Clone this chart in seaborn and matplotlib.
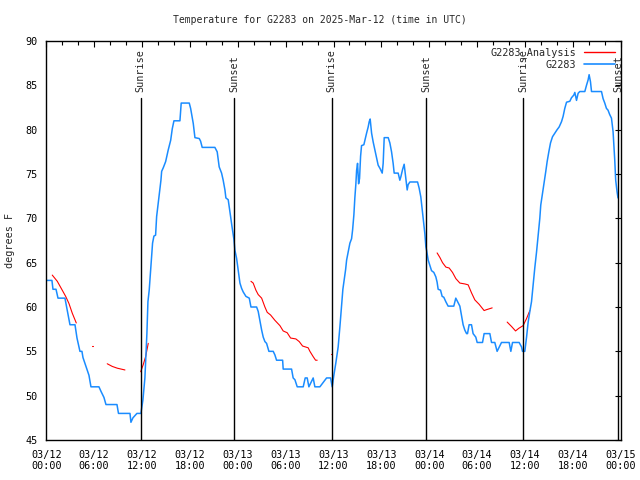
import numpy as np
import pandas as pd
import seaborn as sns
import matplotlib.pyplot as plt
from matplotlib.ticker import MultipleLocator
from matplotlib.lines import Line2D

# hours since 2025-03-12 00:00 UTC
obs_hours = [0.0, 0.71, 0.84, 1.22, 1.47, 2.34, 2.97, 3.6, 3.85, 4.22, 4.47, 4.6, 4.97, 5.35, 5.6,
             5.85, 6.6, 6.85, 7.23, 7.48, 8.86, 9.05, 10.49, 10.61, 10.86, 11.36, 11.86,
             12.11, 12.36, 12.61, 12.74, 12.9, 13.11, 13.32, 13.49, 13.7, 13.83, 14.03, 14.24,
             14.37, 14.46, 14.66, 14.96, 15.28, 15.59, 15.79, 16.0, 16.75, 16.91, 17.92, 18.09,
             18.42, 18.63, 19.17, 19.34, 19.54, 21.13, 21.42, 21.67, 21.97, 22.17, 22.39, 22.51,
             22.8, 22.93, 23.1, 23.27, 23.52, 23.64, 23.85, 24.05, 24.27, 24.48, 24.68, 25.02,
             25.44, 25.65, 26.36, 26.56, 26.77, 26.99, 27.19, 27.4, 27.61, 27.9, 28.44, 28.65,
             28.86, 29.62, 29.69, 30.74, 30.94, 31.16, 31.45, 32.2, 32.45, 32.7, 32.91, 33.45,
             33.66, 34.29, 35.13, 35.63, 35.83, 36.04, 36.29, 36.58, 36.8, 37.17, 37.51, 37.64,
             37.84, 38.05, 38.26, 38.39, 38.55, 38.67, 38.8, 38.89, 39.01, 39.14, 39.26, 39.39,
             39.51, 39.8, 39.93, 40.14, 40.34, 40.47, 40.59, 40.77, 40.97, 41.18, 41.39, 41.59,
             41.84, 42.1, 42.22, 42.35, 42.85, 43.06, 43.27, 43.47, 43.6, 44.1, 44.31, 44.44,
             44.65, 44.85, 45.03, 45.23, 45.35, 45.57, 46.53, 46.73, 46.94, 47.16, 47.32, 47.44,
             47.57, 47.66, 47.86, 48.07, 48.28, 48.57, 48.82, 48.98, 49.11, 49.41, 49.61, 49.82,
             50.07, 50.36, 51.07, 51.32, 51.54, 51.83, 52.04, 52.24, 52.45, 52.67, 52.79, 52.99,
             53.29, 53.49, 53.83, 54.0, 54.67, 54.87, 55.59, 55.8, 56.21, 56.5, 57.05, 58.01,
             58.22, 58.43, 59.26, 59.56, 59.68, 59.97, 60.19, 60.39, 60.6, 60.81, 61.01, 61.22,
             61.44, 61.64, 61.85, 61.97, 62.19, 62.39, 62.6, 62.77, 62.98, 63.19, 63.44, 63.73,
             64.02, 64.27, 64.57, 64.77, 64.98, 65.2, 65.61, 65.82, 66.11, 66.24, 66.45, 66.65,
             66.86, 67.49, 67.7, 67.9, 68.03, 68.2, 68.33, 69.58, 69.78, 69.99, 70.2, 70.4,
             70.61, 70.83, 71.03, 71.24, 71.36, 71.53, 71.65]
obs_temps = [63, 63, 62, 62, 61, 61, 58, 58, 56.5, 55, 55, 54.3, 53.3, 52.3, 51,
             51, 51, 50.5, 49.8, 49, 49, 48, 48, 47, 47.5, 48, 48,
             49.5, 52, 57, 60.6, 61.9, 64.5, 67.2, 68, 68.1, 70.2, 71.7, 73.2,
             74.3, 75.3, 75.7, 76.4, 77.7, 78.8, 80.1, 81, 81, 83, 83, 82.4,
             80.7, 79.1, 79, 78.7, 78, 78, 77.5, 75.8, 75.1, 74.3, 73.2, 72.3,
             72.1, 71.3, 70.2, 69.1, 67.6, 66.4, 65.5, 64.2, 62.7, 62.1, 61.7, 61.2,
             61, 60, 60, 59.5, 58.5, 57.4, 56.6, 56.1, 55.9, 55, 55, 54.6,
             54, 54, 53, 53, 52, 51.8, 51, 51, 52, 52, 51, 52,
             51, 51, 52, 52, 51, 52.3, 53.7, 55.5, 57.8, 62, 64.2, 65.3,
             66.2, 67.2, 67.7, 68.7, 70.4, 72.3, 73.9, 75.4, 76.2, 73.9, 74.5, 77,
             78.2, 78.3, 78.8, 79.6, 80.3, 80.9, 81.2, 79.6, 78.6, 77.7, 76.8, 76,
             75.6, 75.1, 76.2, 79.1, 79.1, 78.5, 77.5, 76.2, 75.1, 75.1, 74.3, 74.7,
             75.5, 76.1, 74.7, 73.2, 73.8, 74.1, 74.1, 73.4, 72.4, 70.6, 69.4, 68.3,
             66.8, 66.4, 65.3, 64.7, 64.1, 63.9, 63.4, 62.8, 62, 61.9, 61.2, 61.1,
             60.6, 60.1, 60.1, 61, 60.6, 60.1, 59, 58, 57.4, 57, 57, 58,
             58, 57, 56.6, 56, 56, 57, 57, 56, 56, 55, 56, 56,
             55, 56, 56, 55.5, 55, 55, 56.6, 58.3, 59.5, 60.6, 62.5, 64.4,
             66.2, 68.1, 70, 71.5, 72.8, 73.9, 75.3, 76.4, 77.5, 78.5, 79.2, 79.6,
             80, 80.3, 80.9, 81.5, 82.4, 83.1, 83.2, 83.6, 83.9, 84.2, 83.3, 84.1,
             84.3, 84.3, 85, 85.6, 86.2, 85.4, 84.3, 84.3, 83.5, 83, 82.4, 82.2,
             81.7, 81.3, 79.8, 76.6, 74.3, 73, 72.3]

ana_hours = [0.75, 1.38, 2.0, 2.43, 2.84, 3.26, 3.76,
             5.72, 5.8,
             7.64, 8.27, 8.9, 9.86,
             11.83, 12.15, 12.45, 12.78,
             25.65, 25.93, 26.27, 26.56, 26.99, 27.4, 27.69, 28.11, 28.65, 29.28, 29.69, 30.19,
             30.62, 31.28, 31.7, 32.12, 32.82, 33.04, 33.45, 33.75, 33.95,
             35.72, 35.8,
             48.98, 49.32, 49.66, 50.08, 50.49, 50.91, 51.33, 51.83, 52.46, 52.87, 53.29, 53.71,
             54.25, 54.87, 55.17, 55.88,
             57.76, 58.31, 58.81, 59.22, 59.76, 60.19, 60.6]
ana_temps = [63.6, 62.9, 61.9, 61.2, 60.4, 59.3, 58.2,
             55.6, 55.6,
             53.6, 53.3, 53.1, 52.9,
             52.7, 53.5, 54.4, 55.9,
             62.9, 62.7, 61.9, 61.4, 61.0, 60.0, 59.4, 59.1, 58.5, 57.9, 57.3, 57.1,
             56.5, 56.4, 56.1, 55.6, 55.4, 55.0, 54.4, 54.0, 54.0,
             54.7, 54.7,
             66.1, 65.6, 65.0, 64.5, 64.4, 63.9, 63.2, 62.7, 62.6, 62.5, 61.6, 60.8,
             60.3, 59.6, 59.7, 59.9,
             58.3, 57.8, 57.3, 57.6, 57.9, 58.7, 59.6]
ana_seg = [1] * 7 + [2] * 2 + [3] * 4 + [4] * 4 + [5] * 21 + [6] * 2 + [7] * 16 + [8] * 7

sun_hours = [11.83, 23.58, 35.78, 47.63, 59.77, 71.68]
sun_labels = ["Sunrise", "Sunset", "Sunrise", "Sunset", "Sunrise", "Sunset"]

tick_hours = list(range(0, 73, 6))
tick_labels = ["03/12\n00:00", "03/12\n06:00", "03/12\n12:00", "03/12\n18:00",
               "03/13\n00:00", "03/13\n06:00", "03/13\n12:00", "03/13\n18:00",
               "03/14\n00:00", "03/14\n06:00", "03/14\n12:00", "03/14\n18:00",
               "03/15\n00:00"]

obs = pd.DataFrame({"hour": obs_hours, "temp": obs_temps})
ana = pd.DataFrame({"hour": ana_hours, "temp": ana_temps, "seg": ana_seg})

sns.set_style("white")
plt.rcParams['font.family'] = ['DejaVu Sans Mono']
plt.rcParams['font.size'] = 7

blue = '#1a8cff'
red = '#ff0000'

fig = plt.figure(figsize=(6.4, 4.8), dpi=100)
ax = fig.add_axes([0.0723, 0.0833, 0.8977, 0.8313])

sns.lineplot(data=ana, x="hour", y="temp", units="seg", estimator=None,
             color=red, linewidth=0.8, ax=ax)
sns.lineplot(data=obs, x="hour", y="temp", color=blue, linewidth=1.1, ax=ax)

for h, lab in zip(sun_hours, sun_labels):
    ax.axvline(h, ymin=0, ymax=0.857, color='black', linewidth=1.0)
    ax.text(h, 0.872, lab, rotation=90, ha='center', va='bottom',
            transform=ax.get_xaxis_transform(), fontsize=7.3)

ax.set_xlim(0, 72)
ax.set_ylim(45, 90)
ax.set_xticks(tick_hours)
ax.set_xticklabels(tick_labels)
ax.xaxis.set_minor_locator(MultipleLocator(2))
ax.yaxis.set_major_locator(MultipleLocator(5))
ax.tick_params(which='both', direction='in', top=True, right=True, colors='black',
               labelsize=7.3)
ax.tick_params(which='major', length=4, width=0.8)
ax.tick_params(which='minor', length=3, width=0.8)
ax.tick_params(axis='x', which='major', pad=7)
ax.tick_params(axis='y', which='major', pad=6)
for s in ax.spines.values():
    s.set_color('black')
    s.set_linewidth(1.0)

ax.set_xlabel("")
ax.set_ylabel("degrees F", fontsize=7.3)
ax.yaxis.set_label_coords(-0.055, 0.5)

handles = [Line2D([], [], color=red, linewidth=1.0), Line2D([], [], color=blue, linewidth=1.2)]
ax.legend(handles, ["G2283_Analysis", "G2283"], loc='upper right', frameon=False,
          markerfirst=False, handlelength=3.0, fontsize=7.3, borderaxespad=0.2,
          labelspacing=0.2, handletextpad=0.8)

fig.text(0.5, 0.958, "Temperature for G2283 on 2025-Mar-12 (time in UTC)",
         ha='center', va='center', fontsize=7)

fig.savefig("out.png", dpi=100)
